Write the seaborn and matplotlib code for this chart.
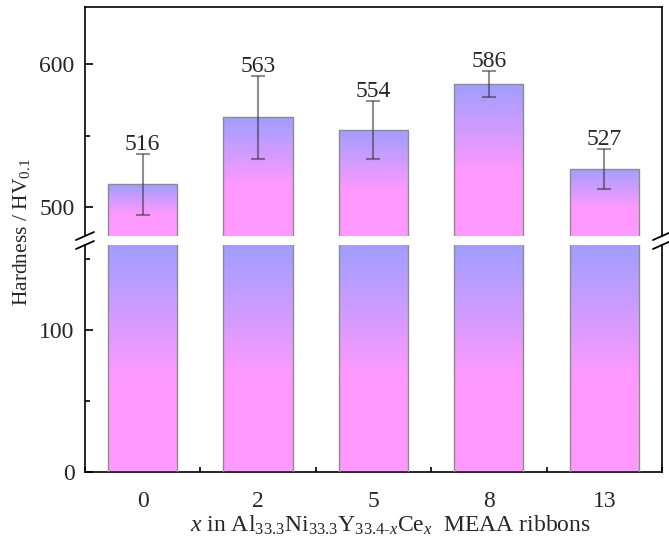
import numpy as np
import pandas as pd
import seaborn as sns
import matplotlib
matplotlib.use('Agg')
import matplotlib.pyplot as plt
from matplotlib.colors import LinearSegmentedColormap
from matplotlib.lines import Line2D
from matplotlib.ticker import MultipleLocator

# data
x_labels = ["0", "2", "5", "8", "13"]
hardness = [516, 563, 554, 586, 527]
hardness_err = [21, 29, 20, 9, 14]

TOP_LIM = (480, 640)
BOT_LIM = (0, 160)

sns.set_theme(style="ticks")
plt.rcParams['font.family'] = ['Liberation Serif', 'DejaVu Serif']
plt.rcParams['mathtext.fontset'] = 'custom'
plt.rcParams['mathtext.rm'] = 'Liberation Serif'
plt.rcParams['mathtext.it'] = 'Liberation Serif:italic'
plt.rcParams['font.size'] = 17

df = pd.DataFrame({"x": x_labels, "hv": hardness, "err": hardness_err})

grad = LinearSegmentedColormap.from_list(
    "bar_grad", [(0.0, "#A09EFF"), (0.58, "#FF99FF"), (1.0, "#FF99FF")])

fig = plt.figure(figsize=(6.69, 5.48), dpi=100)
ax_top = fig.add_axes([0.127, 0.5693, 0.8625, 0.4179])
ax_bot = fig.add_axes([0.127, 0.1387, 0.8625, 0.4142])


def gradient_bars(ax, ylim):
    sns.barplot(data=df, x="x", y="hv", order=x_labels, ax=ax, width=0.6,
                color="white", edgecolor="#8c8c8c", linewidth=1.0,
                errorbar=None, zorder=2)
    ax.set_ylim(*ylim)
    img = np.linspace(0, 1, 256).reshape(-1, 1)
    for patch in ax.patches:
        x0, y0 = patch.get_x(), patch.get_y()
        w, h = patch.get_width(), patch.get_height()
        lo, hi = max(y0, ylim[0]), min(y0 + h, ylim[1])
        im = ax.imshow(img, cmap=grad, aspect="auto", origin="upper",
                       extent=[x0, x0 + w, lo, hi], zorder=1.5)
        im.set_clip_path(patch)
        patch.set_facecolor("none")
        patch.set_zorder(3)
    ax.set_xlim(-0.5, 4.5)
    ax.set_ylim(*ylim)
    ax.set_xlabel("")
    ax.set_ylabel("")


gradient_bars(ax_top, TOP_LIM)
gradient_bars(ax_bot, BOT_LIM)

# error bars and value labels
xpos = np.arange(len(x_labels))
ax_top.errorbar(xpos, df["hv"], yerr=df["err"], fmt="none", ecolor="#333333",
                alpha=0.55, elinewidth=1.5, capsize=5, capthick=1.5, zorder=4)
for xi, v, e in zip(xpos, hardness, hardness_err):
    ax_top.annotate(str(v), (xi, v + e), xytext=(0, 3), textcoords="offset points",
                    ha="center", va="baseline", fontsize=17)

# spines and ticks
for ax in (ax_top, ax_bot):
    for s in ax.spines.values():
        s.set_linewidth(1.2)
        s.set_color("black")
    ax.tick_params(axis="both", which="major", direction="in", length=6,
                   width=1.2, labelsize=17, color="black")
    ax.tick_params(axis="both", which="minor", direction="in", length=3.5,
                   width=1.2, color="black")
    ax.tick_params(axis="y", which="major", pad=7.5)
    ax.tick_params(right=False, top=False, which="both")

ax_top.spines["bottom"].set_visible(False)
ax_top.tick_params(axis="x", which="both", bottom=False, labelbottom=False)
ax_top.yaxis.set_major_locator(MultipleLocator(100))
ax_top.yaxis.set_minor_locator(MultipleLocator(50))

ax_bot.spines["top"].set_visible(False)
ax_bot.yaxis.set_major_locator(MultipleLocator(100))
ax_bot.yaxis.set_minor_locator(MultipleLocator(50))
ax_bot.set_xticks(xpos)
ax_bot.set_xticklabels(x_labels)
ax_bot.xaxis.set_minor_locator(MultipleLocator(1, offset=0.5))
ax_bot.tick_params(axis="x", which="major", pad=14)

# break marks
dx, dy = 9 / 669, 4 / 548
for ax, edge in ((ax_top, "bottom"), (ax_bot, "top")):
    pos = ax.get_position()
    yy = pos.y0 if edge == "bottom" else pos.y1
    for xx in (pos.x0, pos.x1):
        fig.add_artist(Line2D([xx - dx, xx + dx], [yy - dy, yy + dy],
                              color="black", lw=1.3, transform=fig.transFigure))

fig.text(0.032, 0.577, r"Hardness / HV$_{0.1}$", rotation=90,
         ha="center", va="center", fontsize=15.5)
fig.text(0.583, 0.042,
         r"$x$ in Al$_{33.3}$Ni$_{33.3}$Y$_{33.4\text{-}x}$Ce$_{x}$  MEAA ribbons",
         ha="center", va="center", fontsize=17)

fig.savefig("out.png", dpi=100)
plt.close(fig)
